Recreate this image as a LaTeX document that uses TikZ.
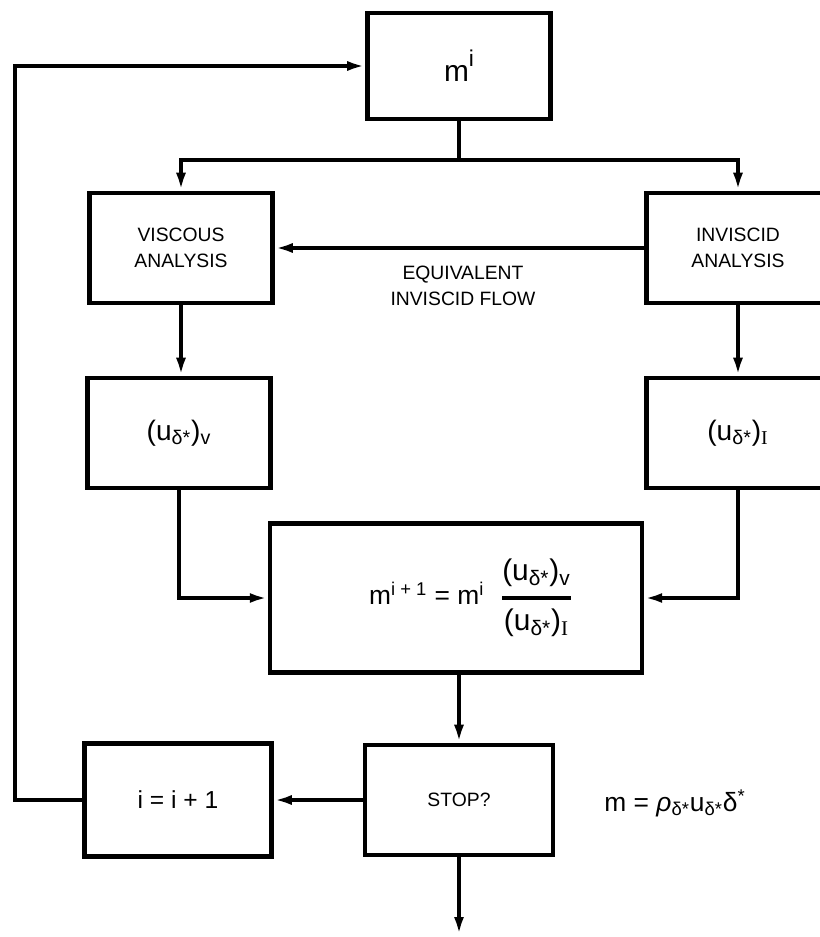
\documentclass[tikz,border=0pt]{standalone}
\usepackage{amsmath}
\usepackage{fontspec}
\setmainfont{Liberation Sans}
\newfontfamily\serifI{Liberation Serif}
\usetikzlibrary{arrows.meta}

\newcommand{\udel}{u\textsubscript{δ*}}
\newcommand{\subI}{\textsubscript{\serifI I}}

\tikzset{
  blk/.style={draw, line width=2.6pt, minimum width=3.66cm, minimum height=2.2cm,
    align=center, font=\fontsize{11}{14.7}\selectfont},
  flow/.style={line width=2.1pt},
}

\begin{document}
\begin{tikzpicture}[x=0.02cm, y=-0.02cm, >={Latex[length=3.6mm,width=2mm]}]
\clip (0,0) rectangle (820,937);
% boxes
\node[blk, minimum height=2.12cm, font=\fontsize{17}{18}\selectfont] (mi) at (459,66)
  {m\raisebox{0.95ex}{\fontsize{13}{13}\selectfont i}};
\node[blk] (visc) at (181,248) {VISCOUS\\ANALYSIS};
\node[blk] (invisc) at (738,248) {INVISCID\\ANALYSIS};
\node[blk, font=\fontsize{16}{18}\selectfont] (uv) at (179,433) {(\udel)\textsubscript{v}};
\node[blk, font=\fontsize{16}{18}\selectfont] (ui) at (738,433) {(\udel)\subI};
\node[blk, minimum width=7.44cm, minimum height=2.98cm, font=\fontsize{15}{17}\selectfont] (upd) at (456,598)
  {\hspace*{0.6cm}m\textsuperscript{i + 1} = m\textsuperscript{i}\hspace{0.6em}$\genfrac{}{}{1.8pt}{0}{\mbox{\fontsize{17}{18}\selectfont(\udel)\textsubscript{v}}}{\mbox{\fontsize{17}{18}\selectfont(\udel)\subI}}$};
\node[blk, minimum width=3.76cm] (stop) at (459,800) {STOP?};
\node[blk, minimum width=3.74cm, minimum height=2.26cm, font=\fontsize{14}{16}\selectfont] (incr) at (178,800) {i = i + 1};
% labels
\node[font=\fontsize{11}{14.7}\selectfont, align=center] (eqv) at (463,286) {EQUIVALENT\\INVISCID FLOW};
\node[font=\fontsize{15}{17}\selectfont] (mdef) at (675,803) {m = \textit{ρ}\textsubscript{δ*}\udel δ\textsuperscript{*}};
% connectors
\coordinate (split) at (459,160);
\coordinate (fb) at (15,800);
\coordinate (out) at (459,935);
\draw[flow] (mi.south) -- (split);
\draw[flow,->] (split) -| (visc.north);
\draw[flow,->] (split) -| (invisc.north);
\draw[flow,->] (invisc) -- (visc);
\draw[flow,->] (visc.south) -- (visc.south |- uv.north);
\draw[flow,->] (invisc) -- (ui);
\draw[flow,->] (uv.south) |- (upd.west);
\draw[flow,->] (ui.south) |- (upd.east);
\draw[flow,->] (upd.south -| stop.north) -- (stop.north);
\draw[flow,->] (stop) -- (incr);
\draw[flow,->] (incr.west) -- (fb) |- (mi.west);
\draw[flow,->] (stop.south) -- (out);
\end{tikzpicture}
\end{document}
